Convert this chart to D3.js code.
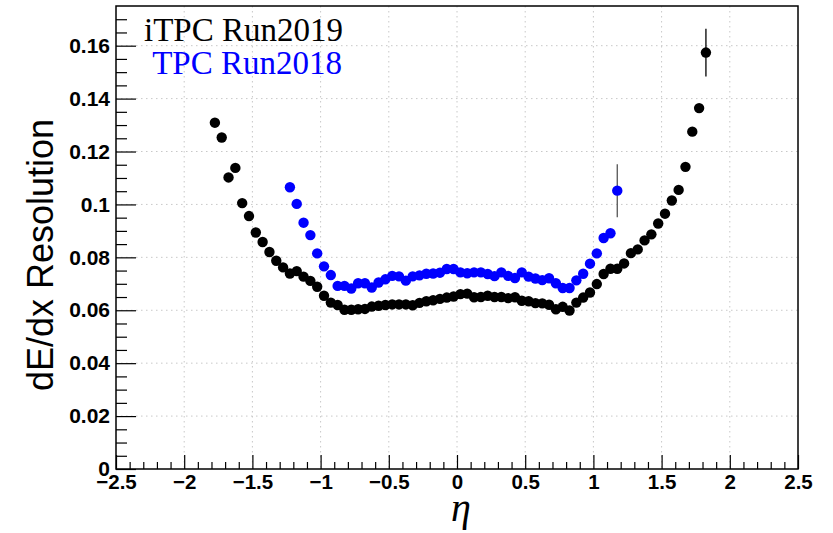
<!DOCTYPE html>
<html>
<head>
<meta charset="utf-8">
<script src="https://cdn.jsdelivr.net/npm/d3@7"></script>
<style>
  html, body { margin: 0; padding: 0; background: #fff; }
  svg { display: block; }
</style>
</head>
<body>
<svg id="chart" width="833" height="533"></svg>
<script>
// ---------------- data ----------------
const seriesNames = ["iTPC Run2019", "TPC Run2018"];
const seriesColors = ["#000000", "#0000ff"];

const etaRun2019 = [
  -1.775, -1.725, -1.675, -1.625, -1.575, -1.525, -1.475, -1.425, -1.375, -1.325,
  -1.275, -1.225, -1.175, -1.125, -1.075, -1.025, -0.975, -0.925, -0.875, -0.825,
  -0.775, -0.725, -0.675, -0.625, -0.575, -0.525, -0.475, -0.425, -0.375, -0.325,
  -0.275, -0.225, -0.175, -0.125, -0.075, -0.025, 0.025, 0.075, 0.125, 0.175,
  0.225, 0.275, 0.325, 0.375, 0.425, 0.475, 0.525, 0.575, 0.625, 0.675,
  0.725, 0.775, 0.825, 0.875, 0.925, 0.975, 1.025, 1.075, 1.125, 1.175,
  1.225, 1.275, 1.325, 1.375, 1.425, 1.475, 1.525, 1.575, 1.625, 1.675,
  1.725, 1.775, 1.825
];
const resRun2019 = [
  0.1309, 0.1253, 0.1102, 0.1138, 0.1005, 0.0956, 0.0894, 0.0858, 0.0820, 0.0787,
  0.0762, 0.0739, 0.0748, 0.0727, 0.0711, 0.0689, 0.0655, 0.0629, 0.0620, 0.0602,
  0.0602, 0.0604, 0.0605, 0.0614, 0.0617, 0.0620, 0.0622, 0.0622, 0.0622, 0.0619,
  0.0628, 0.0634, 0.0638, 0.0643, 0.0648, 0.0652, 0.0661, 0.0663, 0.0649, 0.0650,
  0.0655, 0.0650, 0.0650, 0.0646, 0.0649, 0.0636, 0.0634, 0.0627, 0.0626, 0.0621,
  0.0604, 0.0613, 0.0599, 0.0629, 0.0648, 0.0667, 0.0699, 0.0737, 0.0757, 0.0757,
  0.0777, 0.0816, 0.0830, 0.0864, 0.0887, 0.0928, 0.0965, 0.1015, 0.1055, 0.1142,
  0.1275, 0.1364, 0.1574
];
const errRun2019 = [
  0, 0, 0, 0, 0, 0, 0, 0, 0, 0,
  0, 0, 0, 0, 0, 0, 0, 0, 0, 0,
  0, 0, 0, 0, 0, 0, 0, 0, 0, 0,
  0, 0, 0, 0, 0, 0, 0, 0, 0, 0,
  0, 0, 0, 0, 0, 0, 0, 0, 0, 0,
  0, 0, 0, 0, 0, 0, 0, 0, 0, 0,
  0, 0, 0, 0, 0, 0, 0, 0, 0, 0,
  0, 0, 0.0090
];

const etaRun2018 = [
  -1.225, -1.175, -1.125, -1.075, -1.025, -0.975, -0.925, -0.875, -0.825, -0.775,
  -0.725, -0.675, -0.625, -0.575, -0.525, -0.475, -0.425, -0.375, -0.325, -0.275,
  -0.225, -0.175, -0.125, -0.075, -0.025, 0.025, 0.075, 0.125, 0.175, 0.225,
  0.275, 0.325, 0.375, 0.425, 0.475, 0.525, 0.575, 0.625, 0.675, 0.725,
  0.775, 0.825, 0.875, 0.925, 0.975, 1.025, 1.075, 1.125, 1.175
];
const resRun2018 = [
  0.1065, 0.1002, 0.0931, 0.0884, 0.0815, 0.0766, 0.0733, 0.0692, 0.0692, 0.0682,
  0.0702, 0.0702, 0.0686, 0.0705, 0.0717, 0.0730, 0.0728, 0.0712, 0.0728, 0.0732,
  0.0738, 0.0739, 0.0742, 0.0756, 0.0756, 0.0743, 0.0740, 0.0743, 0.0743, 0.0737,
  0.0729, 0.0743, 0.0730, 0.0722, 0.0743, 0.0727, 0.0720, 0.0714, 0.0721, 0.0702,
  0.0684, 0.0684, 0.0713, 0.0738, 0.0776, 0.0815, 0.0873, 0.0891, 0.1052
];
const errRun2018 = [
  0, 0, 0, 0, 0, 0, 0, 0, 0, 0,
  0, 0, 0, 0, 0, 0, 0, 0, 0, 0,
  0, 0, 0, 0, 0, 0, 0, 0, 0, 0,
  0, 0, 0, 0, 0, 0, 0, 0, 0, 0,
  0, 0, 0, 0, 0, 0, 0, 0, 0.0100
];

const xTickValues = [-2.5, -2, -1.5, -1, -0.5, 0, 0.5, 1, 1.5, 2, 2.5];
const xTickLabels = ["\u22122.5", "\u22122", "\u22121.5", "\u22121", "\u22120.5", "0", "0.5", "1", "1.5", "2", "2.5"];
const yTickValues = [0, 0.02, 0.04, 0.06, 0.08, 0.1, 0.12, 0.14, 0.16];
const yTickLabels = ["0", "0.02", "0.04", "0.06", "0.08", "0.1", "0.12", "0.14", "0.16"];
const xMinorStep = 0.1;
const yMinorStep = 0.005;

const xTitle = "\u03b7";
const yTitle = "dE/dx Resolution";

// ---------------- layout ----------------
const frame = { left: 116, right: 798, top: 6, bottom: 469 };

const x = d3.scaleLinear().domain([-2.5, 2.5]).range([frame.left, frame.right]);
const y = d3.scaleLinear().domain([0, 0.175]).range([frame.bottom, frame.top]);

const svg = d3.select("#chart");

// grid
const grid = svg.append("g").attr("class", "grid");
grid.selectAll("line.gx")
  .data(xTickValues.filter(v => v > -2.5 && v < 2.5))
  .join("line")
  .attr("x1", d => x(d)).attr("x2", d => x(d))
  .attr("y1", frame.top).attr("y2", frame.bottom)
  .attr("stroke", "#c8c8c8").attr("stroke-width", 1)
  .attr("stroke-dasharray", "1.5,3.5");
grid.selectAll("line.gy")
  .data(yTickValues.filter(v => v > 0))
  .join("line")
  .attr("x1", frame.left).attr("x2", frame.right)
  .attr("y1", d => y(d)).attr("y2", d => y(d))
  .attr("stroke", "#c8c8c8").attr("stroke-width", 1)
  .attr("stroke-dasharray", "1.5,3.5");

// minor tick values
const xMinor = d3.range(-25, 26).map(i => i * xMinorStep).filter(v => !xTickValues.some(t => Math.abs(t - v) < 1e-9));
const yMinor = d3.range(0, 36).map(i => i * yMinorStep).filter(v => v <= 0.175 && !yTickValues.some(t => Math.abs(t - v) < 1e-9));

const labelFont = "'Liberation Sans', Arial, Helvetica, sans-serif";

// x axis minor
svg.append("g")
  .attr("transform", `translate(0,${frame.bottom})`)
  .call(d3.axisBottom(x).tickValues(xMinor).tickSize(-7).tickFormat(""))
  .call(g => g.select(".domain").remove())
  .call(g => g.selectAll("line").attr("stroke", "#000").attr("stroke-width", 1.2));

// x axis major
svg.append("g")
  .attr("transform", `translate(0,${frame.bottom})`)
  .call(d3.axisBottom(x).tickValues(xTickValues).tickSize(-14).tickPadding(5)
        .tickFormat((d, i) => xTickLabels[i]))
  .call(g => g.select(".domain").remove())
  .call(g => g.selectAll("line").attr("stroke", "#000").attr("stroke-width", 1.2))
  .call(g => g.selectAll("text")
        .attr("fill", "#000")
        .style("font-family", labelFont)
        .style("font-weight", "bold")
        .style("font-size", "20.5px"));

// y axis minor
svg.append("g")
  .attr("transform", `translate(${frame.left},0)`)
  .call(d3.axisLeft(y).tickValues(yMinor).tickSize(-11).tickFormat(""))
  .call(g => g.select(".domain").remove())
  .call(g => g.selectAll("line").attr("stroke", "#000").attr("stroke-width", 1.2));

// y axis major
svg.append("g")
  .attr("transform", `translate(${frame.left},0)`)
  .call(d3.axisLeft(y).tickValues(yTickValues).tickSize(-20).tickPadding(6)
        .tickFormat((d, i) => yTickLabels[i]))
  .call(g => g.select(".domain").remove())
  .call(g => g.selectAll("line").attr("stroke", "#000").attr("stroke-width", 1.2))
  .call(g => g.selectAll("text")
        .attr("fill", "#000")
        .style("font-family", labelFont)
        .style("font-weight", "bold")
        .style("font-size", "21px"));

// frame
svg.append("rect")
  .attr("x", frame.left).attr("y", frame.top)
  .attr("width", frame.right - frame.left).attr("height", frame.bottom - frame.top)
  .attr("fill", "none").attr("stroke", "#000").attr("stroke-width", 1.5);

// series
const series = [
  { eta: etaRun2019, res: resRun2019, err: errRun2019, color: seriesColors[0], barColor: "#000" },
  { eta: etaRun2018, res: resRun2018, err: errRun2018, color: seriesColors[1], barColor: "#555" }
];

series.slice().reverse().forEach(s => {
  const pts = s.eta.map((e, i) => ({ e, v: s.res[i], err: s.err[i] }));
  const g = svg.append("g");
  g.selectAll("line.err")
    .data(pts.filter(p => p.err > 0))
    .join("line")
    .attr("x1", p => x(p.e)).attr("x2", p => x(p.e))
    .attr("y1", p => y(p.v - p.err)).attr("y2", p => y(p.v + p.err))
    .attr("stroke", s.barColor).attr("stroke-width", 1.3);
  g.selectAll("circle")
    .data(pts)
    .join("circle")
    .attr("cx", p => x(p.e)).attr("cy", p => y(p.v))
    .attr("r", 5.2)
    .attr("fill", s.color);
});

// legend texts
const legendFont = "'Liberation Serif', 'Times New Roman', Times, serif";
svg.append("text")
  .attr("x", 343).attr("y", 41)
  .attr("text-anchor", "end")
  .style("font-family", legendFont).style("font-size", "33px")
  .attr("fill", seriesColors[0])
  .text(seriesNames[0]);
svg.append("text")
  .attr("x", 342).attr("y", 74)
  .attr("text-anchor", "end")
  .style("font-family", legendFont).style("font-size", "33px")
  .attr("fill", seriesColors[1])
  .text(seriesNames[1]);

// axis titles
svg.append("text")
  .attr("transform", `translate(53,255) rotate(-90)`)
  .attr("text-anchor", "middle")
  .style("font-family", labelFont).style("font-size", "36px")
  .attr("fill", "#000")
  .text(yTitle);

svg.append("text")
  .attr("x", 461).attr("y", 521)
  .attr("text-anchor", "middle")
  .style("font-family", legendFont).style("font-style", "italic").style("font-size", "40px")
  .attr("fill", "#000")
  .text(xTitle);
</script>
</body>
</html>
